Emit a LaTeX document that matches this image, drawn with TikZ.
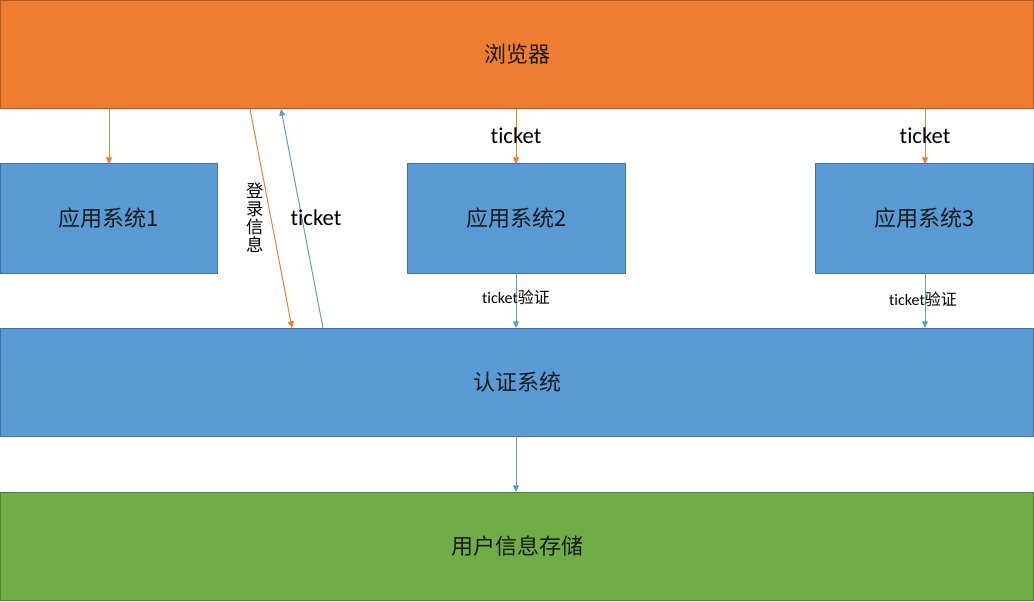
\documentclass[tikz,border=0pt]{standalone}
\usepackage{fontspec}
\setmainfont[Ligatures={NoCommon}]{Carlito}
\newfontfamily\cjk{Noto Sans CJK SC}
\usepackage{xcolor}
\usepackage{tikz}
\usetikzlibrary{positioning}
\usetikzlibrary{arrows.meta}
\pgfdeclarelayer{nodelayer}
\pgfdeclarelayer{edgelayer}
\pgfsetlayers{nodelayer,edgelayer,main}
\definecolor{browserfill}{HTML}{ED7D31}
\definecolor{browserline}{HTML}{AE5A21}
\definecolor{appfill}{HTML}{5B9BD5}
\definecolor{appline}{HTML}{41719C}
\definecolor{storefill}{HTML}{70AD47}
\definecolor{storeline}{HTML}{507E32}
\tikzset{
    none/.style = {inner sep=0pt},
    box/.style = {draw, line width=0.75pt, inner sep=0pt, outer sep=0pt,
        font=\cjk\fontsize{16.5}{18}\selectfont, text=black!90},
    wide/.style = {box, minimum width=774.75pt, minimum height=81pt},
    app/.style = {box, fill=appfill, draw=appline, minimum width=163pt, minimum height=81.75pt},
    orangeline/.style = {draw=browserfill, line width=0.75pt, -{Triangle[length=5pt,width=4.5pt]}},
    blueline/.style = {draw=appfill, line width=0.75pt, -{Triangle[length=5pt,width=4.5pt]}},
    biglabel/.style = {font=\fontsize{17}{18}\selectfont},
    smalllabel/.style = {font=\fontsize{12}{14}\selectfont}
}
\begin{document}
\begin{tikzpicture}[x=0.75pt, y=-0.75pt]
    \useasboundingbox (0,0) rectangle (1034,602);
    \begin{pgfonlayer}{nodelayer}
        \node [wide, fill=browserfill, draw=browserline] (0) at (517, 54.5) {浏览器};
        \node [app] (1) at (109, 218.5) {应用系统1};
        \node [app] (2) at (516.5, 218.5) {应用系统2};
        \node [app] (3) at (924.5, 218.5) {应用系统3};
        \node [wide, fill=appfill, draw=appline] (4) at (517, 382.5) {认证系统};
        \node [wide, fill=storefill, draw=storeline] (5) at (517, 546.5) {用户信息存储};
        % end points on the box borders
        \node [style=none] (10) at (109, 109) {};
        \node [style=none] (11) at (109, 164) {};
        \node [style=none] (12) at (250, 109) {};
        \node [style=none] (13) at (292, 328) {};
        \node [style=none] (14) at (323, 328) {};
        \node [style=none] (15) at (281, 109) {};
        \node [style=none] (16) at (516, 109) {};
        \node [style=none] (17) at (516, 164) {};
        \node [style=none] (18) at (925, 109) {};
        \node [style=none] (19) at (925, 164) {};
        \node [style=none] (20) at (516, 273) {};
        \node [style=none] (21) at (516, 328) {};
        \node [style=none] (22) at (925, 273) {};
        \node [style=none] (23) at (925, 328) {};
        \node [style=none] (24) at (516, 437) {};
        \node [style=none] (25) at (516, 492) {};
    \end{pgfonlayer}
    \begin{pgfonlayer}{edgelayer}
        % Browser to the applications
        \draw [orangeline] (10.center) to (11.center);
        \draw [orangeline] (16.center) to (17.center);
        \draw [orangeline] (18.center) to (19.center);
        % Login and ticket between browser and authentication
        \draw [orangeline] (12.center) to (13.center);
        \draw [blueline] (14.center) to (15.center);
        % Ticket checks
        \draw [blueline] (20.center) to (21.center);
        \draw [blueline] (22.center) to (23.center);
        \draw [blueline] (24.center) to (25.center);
    \end{pgfonlayer}
    % Labels
    \node [biglabel] (30) at (516, 136) {ticket};
    \node [biglabel] (31) at (925, 136) {ticket};
    \node [biglabel] (32) at (316, 218) {ticket};
    \node [font=\cjk\fontsize{13}{13.6}\selectfont, align=center, inner sep=0pt] (33) at (255, 218) {登\\录\\信\\息};
    \node [smalllabel] (34) at (516, 297) {ticket{\cjk 验证}};
    \node [smalllabel] (35) at (923, 299) {ticket{\cjk 验证}};
\end{tikzpicture}
\end{document}
